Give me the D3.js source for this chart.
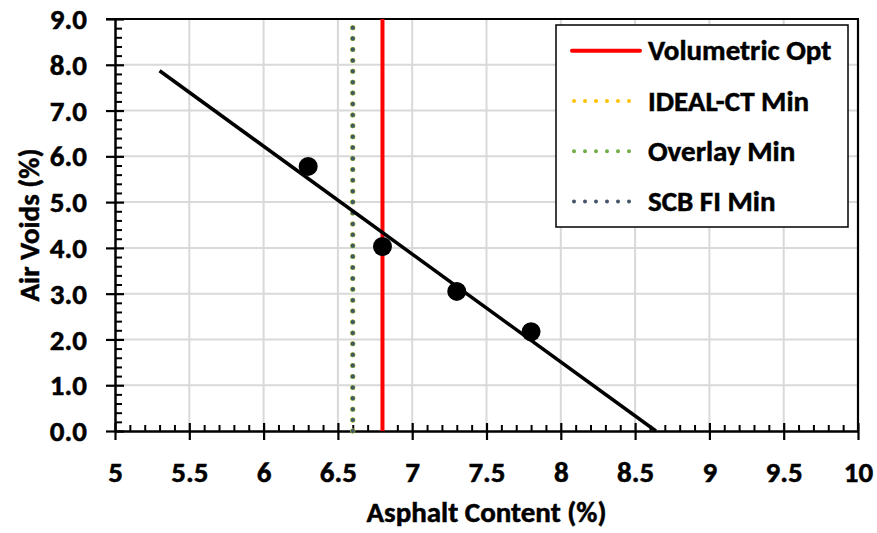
<!DOCTYPE html>
<html>
<head>
<meta charset="utf-8">
<script src="https://cdn.jsdelivr.net/npm/d3@7"></script>
<style>
  html, body { margin: 0; padding: 0; background: #fff; }
  svg { display: block; }
  text { font-family: Carlito, Lato, "Liberation Sans", sans-serif; font-weight: bold; fill: #000; stroke: #000; stroke-width: 0.5px; }
</style>
</head>
<body>
<svg id="chart" width="877" height="533"></svg>
<script>
// ---- data ----
const asphaltContent = [6.3, 6.8, 7.3, 7.8];
const airVoids = [5.78, 4.03, 3.05, 2.17];
const trendX = [5.3, 8.64];
const trendY = [7.87, 0.0];
const refNames = ["Volumetric Opt", "IDEAL-CT Min", "Overlay Min", "SCB FI Min"];
const refValues = [6.8, 6.6, 6.6, 6.6];
const refColors = ["#ff0000", "#ffc000", "#70ad47", "#44546a"];
const refDotted = [false, true, true, true];
const xTickValues = [5, 5.5, 6, 6.5, 7, 7.5, 8, 8.5, 9, 9.5, 10];
const xTickLabels = ["5", "5.5", "6", "6.5", "7", "7.5", "8", "8.5", "9", "9.5", "10"];
const yTickValues = [0, 1, 2, 3, 4, 5, 6, 7, 8, 9];
const yTickLabels = ["0.0", "1.0", "2.0", "3.0", "4.0", "5.0", "6.0", "7.0", "8.0", "9.0"];
const xTitle = "Asphalt Content (%)";
const yTitle = "Air Voids (%)";

// ---- layout ----
const svg = d3.select("#chart");
const L = 115, R = 858, T = 19, B = 431;
const x = d3.scaleLinear().domain([5, 10]).range([L, R]);
const y = d3.scaleLinear().domain([0, 9]).range([B, T]);
const tickFont = 29, labelFont = 29;

// grid
const grid = svg.append("g");
grid.selectAll("line.gx").data(xTickValues.slice(1, -1)).join("line")
  .attr("x1", d => x(d)).attr("x2", d => x(d)).attr("y1", T).attr("y2", B)
  .attr("stroke", "#d9d9d9").attr("stroke-width", 2);
grid.selectAll("line.gy").data(yTickValues.slice(1, -1)).join("line")
  .attr("x1", L).attr("x2", R).attr("y1", d => y(d)).attr("y2", d => y(d))
  .attr("stroke", "#d9d9d9").attr("stroke-width", 2);

// frame top/right
svg.append("line").attr("x1", L - 9).attr("x2", R + 1).attr("y1", T).attr("y2", T)
  .attr("stroke", "#000").attr("stroke-width", 2.2);
svg.append("line").attr("x1", R).attr("x2", R).attr("y1", T).attr("y2", B)
  .attr("stroke", "#000").attr("stroke-width", 2.2);

// minor ticks
const xMinor = d3.range(51).map(i => 5 + i * 0.1).filter(v => Math.abs(v * 2 - Math.round(v * 2)) > 1e-6);
const yMinor = d3.range(46).map(i => i * 0.2).filter(v => Math.abs(v - Math.round(v)) > 1e-6);
svg.append("g").attr("transform", `translate(0,${B})`)
  .call(d3.axisBottom(x).tickValues(xMinor).tickSize(-6).tickFormat(""))
  .call(g => g.select(".domain").remove())
  .selectAll("line").attr("stroke", "#000").attr("stroke-width", 2);
svg.append("g").attr("transform", `translate(${L},0)`)
  .call(d3.axisLeft(y).tickValues(yMinor).tickSize(-7).tickFormat(""))
  .call(g => g.select(".domain").remove())
  .selectAll("line").attr("stroke", "#000").attr("stroke-width", 2);

// major axes
const xAxis = svg.append("g").attr("transform", `translate(0,${B})`)
  .call(d3.axisBottom(x).tickValues(xTickValues).tickSize(9).tickSizeOuter(0)
    .tickFormat((d, i) => xTickLabels[i]));
xAxis.select(".domain").attr("stroke", "#000").attr("stroke-width", 2.5);
xAxis.selectAll(".tick line").attr("y1", -8).attr("y2", 9).attr("stroke", "#000").attr("stroke-width", 2.2);
xAxis.selectAll(".tick text").attr("y", 30).attr("dy", "0.71em")
  .style("font-size", tickFont + "px").attr("fill", "#000");

const yAxis = svg.append("g").attr("transform", `translate(${L},0)`)
  .call(d3.axisLeft(y).tickValues(yTickValues).tickSize(9).tickSizeOuter(0)
    .tickFormat((d, i) => yTickLabels[i]));
yAxis.select(".domain").attr("stroke", "#000").attr("stroke-width", 2.5);
yAxis.selectAll(".tick line").attr("x1", 9).attr("x2", -9).attr("stroke", "#000").attr("stroke-width", 2.2);
yAxis.selectAll(".tick text").attr("x", -28).attr("dy", "0.33em")
  .style("font-size", tickFont + "px").attr("fill", "#000");

// reference vertical lines
const refs = refNames.map((n, i) => ({ name: n, v: refValues[i], c: refColors[i], dotted: refDotted[i] }));
svg.append("g").selectAll("line").data(refs).join("line")
  .attr("x1", d => x(d.v)).attr("x2", d => x(d.v))
  .attr("y1", y(0)).attr("y2", y(9))
  .attr("stroke", d => d.c)
  .attr("stroke-width", d => d.dotted ? (d.c === "#44546a" ? 4 : 5) : 4)
  .attr("stroke-linecap", d => d.dotted ? "round" : "butt")
  .attr("stroke-dasharray", d => d.dotted ? "0,10.9" : null);

// trend line
svg.append("line")
  .attr("x1", x(trendX[0])).attr("y1", y(trendY[0]))
  .attr("x2", x(trendX[1])).attr("y2", y(trendY[1]))
  .attr("stroke", "#000").attr("stroke-width", 3.5);

// markers
svg.append("g").selectAll("circle").data(asphaltContent).join("circle")
  .attr("cx", d => x(d)).attr("cy", (d, i) => y(airVoids[i]))
  .attr("r", 9.5).attr("fill", "#000");

// axis titles
svg.append("text").attr("x", (L + R) / 2).attr("y", 522).attr("text-anchor", "middle")
  .style("font-size", labelFont + "px").text(xTitle);
svg.append("text").attr("transform", `translate(39,${(T + B) / 2}) rotate(-90)`)
  .attr("text-anchor", "middle").style("font-size", labelFont + "px").text(yTitle);

// legend
const lg = svg.append("g");
lg.append("rect").attr("x", 556).attr("y", 25).attr("width", 292).attr("height", 202)
  .attr("fill", "#fff").attr("stroke", "#000").attr("stroke-width", 1.5);
const items = lg.selectAll("g.item").data(refs).join("g")
  .attr("transform", (d, i) => `translate(0,${50.7 + i * 50.3})`);
items.append("line").attr("x1", d => d.dotted ? 574 : 572).attr("x2", 640).attr("y1", 0).attr("y2", 0)
  .attr("stroke", d => d.c)
  .attr("stroke-width", 4)
  .attr("stroke-linecap", "round")
  .attr("stroke-dasharray", d => d.dotted ? "0,11" : null);
items.append("text").attr("x", 648).attr("y", 0).attr("dy", "0.33em")
  .style("font-size", labelFont + "px").text(d => d.name);
</script>
</body>
</html>
